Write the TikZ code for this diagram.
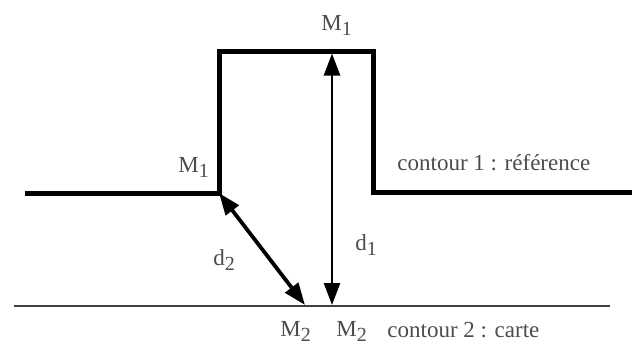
\documentclass[tikz,border=0pt]{standalone}
\usepackage{fontspec}
\setmainfont{Liberation Serif}
\usetikzlibrary{arrows.meta}

\newcommand{\ind}[1]{\raisebox{-0.55ex}{\fontsize{10}{12}\selectfont #1}}

\begin{document}
\begin{tikzpicture}[
  x=0.5pt, y=-0.5pt,
  font=\fontsize{11.5}{14}\selectfont,
  lbl/.style={inner sep=0pt, anchor=base west, text=black!70},
  refline/.style={line width=2.5pt, line join=miter},
  mapline/.style={line width=1.4pt, black!75},
  arr/.style={{Triangle[length=11pt,width=8pt]}-{Triangle[length=11pt,width=8pt]},
              line width=1.3pt},
  arrb/.style={arr, line width=1.9pt},
]
\useasboundingbox (0,0) rectangle (632,344);

% contour 1
\coordinate (r0) at (25,193);
\coordinate (r1) at (219,193);
\coordinate (r2) at (219,51);
\coordinate (r3) at (373,51);
\coordinate (r4) at (373,192);
\coordinate (r5) at (632,192);
\draw[refline] (r0) -- (r1) -- (r2) -- (r3) -- (r4) -- (r5);

% contour 2
\coordinate (c0) at (14,306);
\coordinate (c1) at (610,306);
\draw[mapline] (c0) -- (c1);

\coordinate (top)  at (332,53.5);
\coordinate (foot) at (332,305);
\coordinate (near) at (305,305);

\draw[arr]  (foot) -- (top);
\draw[arrb] (r1)   -- (near);

\node[lbl] (m1top)  at (321,30)  {M\ind{1}};
\node[lbl] (m1left) at (178,172) {M\ind{1}};
\node[lbl] (dtwo)   at (213,265) {d\ind{2}};
\node[lbl] (done)   at (355,250) {d\ind{1}};
\node[lbl] (m2a)    at (280,336) {M\ind{2}};
\node[lbl] (m2b)    at (336,336) {M\ind{2}};
\node[lbl] (ctr1)   at (397,170) {contour 1 : référence};
\node[lbl] (ctr2)   at (387,337) {contour 2 : carte};

\end{tikzpicture}
\end{document}
